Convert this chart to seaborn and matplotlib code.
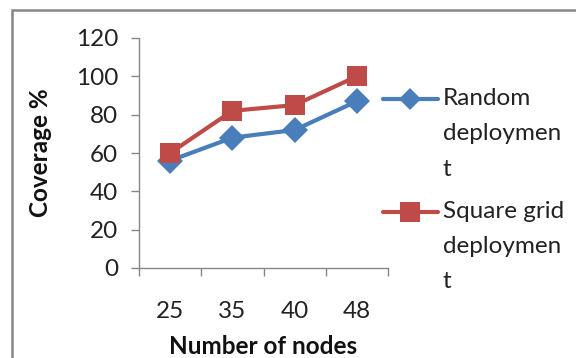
import matplotlib
matplotlib.use("Agg")
import numpy as np
import matplotlib.pyplot as plt
import seaborn as sns
import pandas as pd
from matplotlib.patches import Rectangle
from matplotlib.ticker import FixedLocator
from matplotlib.legend_handler import HandlerLine2D

nodes = ["25", "35", "40", "48"]
random_dep = [56, 68, 72, 87]
square_dep = [60, 82, 85, 100]
series_names = ["Random\ndeploymen\nt", "Square grid\ndeploymen\nt"]
yticks = [0, 20, 40, 60, 80, 100, 120]

FS = 17.5
LINESPACING = 1.85

sns.set_theme(style="white")
plt.rcParams["font.family"] = ["Lato", "DejaVu Sans"]


class FirstLineHandler(HandlerLine2D):
    """Place the legend handle next to the first line of a multi-line label."""
    def __init__(self, shift, msize=None, **kw):
        super().__init__(**kw)
        self.shift = shift
        self.msize = msize

    def create_artists(self, legend, orig_handle, xdescent, ydescent, width,
                       height, fontsize, trans):
        arts = super().create_artists(legend, orig_handle, xdescent, ydescent,
                                      width, height, fontsize, trans)
        for a in arts:
            a.set_ydata(np.asarray(a.get_ydata(), dtype=float) + self.shift)
            if self.msize is not None:
                a.set_markersize(self.msize)
        return arts


fig = plt.figure(figsize=(5.76, 3.58), dpi=100)
ax = fig.add_axes([139/576, 1-268/358, (388-139)/576, (268-38)/358])

blue = "#4A7EBB"
red = "#BE4B48"
df_r = pd.DataFrame({"nodes": nodes, "cov": random_dep})
df_s = pd.DataFrame({"nodes": nodes, "cov": square_dep})
sns.lineplot(data=df_r, x="nodes", y="cov", ax=ax, color=blue, marker="D",
             markersize=13, linewidth=3, markeredgewidth=0, label=series_names[0])
sns.lineplot(data=df_s, x="nodes", y="cov", ax=ax, color=red, marker="s",
             markersize=14, linewidth=3, markeredgewidth=0, label=series_names[1])

ax.set_xlim(-0.5, 3.5)
ax.set_ylim(0, 120)
ax.set_yticks(yticks)
ax.xaxis.set_minor_locator(FixedLocator([-0.5, 0.5, 1.5, 2.5, 3.5]))
for s in ["top", "right"]:
    ax.spines[s].set_visible(False)
for s in ["left", "bottom"]:
    ax.spines[s].set_color("#868686")
    ax.spines[s].set_linewidth(1)
ax.tick_params(axis="y", which="major", left=True, length=6, width=1, color="#868686",
               labelsize=FS, pad=9, labelcolor="#222222")
ax.tick_params(axis="x", which="major", bottom=False, length=0, labelsize=FS, pad=24,
               labelcolor="#222222")
ax.tick_params(axis="x", which="minor", bottom=True, length=6, width=1, color="#868686")

ax.set_xlabel("Number of nodes", fontsize=FS, fontweight="bold", color="#111111")
ax.set_ylabel("Coverage %", fontsize=FS, fontweight="bold", color="#111111")
ax.xaxis.set_label_coords(0.5, -(346-268)/230, transform=ax.transAxes)
ax.yaxis.set_label_coords(-(139-40)/249, (268-153)/230)
ax.xaxis.label.set_va("center")
ax.yaxis.label.set_va("center")

shift_pt = 35 * 72 / 100  # one text line, in points
lines = ax.get_lines()
handlers = {lines[0]: FirstLineHandler(shift_pt, msize=11),
            lines[1]: FirstLineHandler(shift_pt, msize=14)}
leg = ax.legend(loc="upper left", bbox_to_anchor=(383/576, 1-88/358),
                bbox_transform=fig.transFigure, frameon=False, fontsize=FS,
                handlelength=2.26, handletextpad=0.2, labelspacing=0.85,
                borderaxespad=0, borderpad=0, handler_map=handlers)
for t in leg.get_texts():
    t.set_linespacing(LINESPACING)
    t.set_color("#222222")

fig.patches.append(Rectangle((12/576, -0.1), 1.0, 1-10/358+0.1, transform=fig.transFigure,
                             fill=False, edgecolor="#868686", linewidth=1.8, zorder=-1))

fig.savefig("out.png", dpi=100)
